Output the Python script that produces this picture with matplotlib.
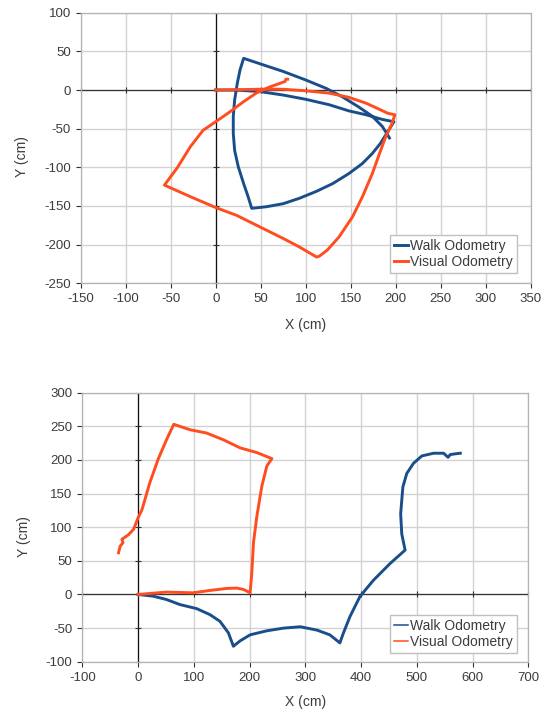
import numpy as np
import matplotlib
matplotlib.use("Agg")
import matplotlib.pyplot as plt

plt.rcParams['font.family'] = ['Liberation Sans', 'DejaVu Sans']
plt.rcParams['axes.unicode_minus'] = False

# Top chart (triangle walk)
walk1_x = [0, 23, 49, 75, 100, 126, 148, 167, 185, 198,
           190, 183, 174, 163, 148, 130, 112, 93, 75, 56, 40,
           36, 31, 25, 21, 19.5, 19.5, 21, 24, 27, 31,
           49, 75, 100, 123, 141, 159, 174, 185, 190, 193]
walk1_y = [0, 0, -2, -6.5, -12, -19, -27, -32, -38, -41,
           -56, -69, -82, -95, -108, -121, -131, -140, -147, -151, -153,
           -138, -121, -99, -78, -56, -34, -13, 9, 26, 41,
           34, 24, 13, 2, -9, -22, -34, -47, -56, -62]
vis1_x = [0, 25, 49, 75, 100, 126, 148, 167, 182, 191, 199,
          196, 189, 182, 174, 163, 152, 137, 124, 115, 112,
          93, 75, 49, 23, 0, -28, -57,
          -43, -28, -14, 0, 16, 31, 45, 60, 71, 77, 78, 80]
vis1_y = [0, 0.5, 1, 1, -1, -4, -9.5, -17, -25, -30, -32,
          -43, -60, -82, -108, -138, -164, -190, -207, -215, -216,
          -203, -192, -177, -162, -152, -138, -123,
          -101, -73, -52, -41, -28, -15, -4, 4, 8.5, 11, 14, 14]

# Bottom chart (long walk)
walk2_x = [0, 27, 51, 75, 105, 129, 147, 162, 171, 183, 201, 231, 261, 291, 321, 344, 362,
           368, 380, 398, 422, 452, 479, 473, 471, 475, 482, 494, 509, 530, 548, 556, 560, 568, 578]
walk2_y = [0, -2.5, -7.5, -15, -21, -30, -40, -57, -77, -69, -60, -54, -50, -48, -53, -60, -72,
           -58, -33, -3, 21, 46, 66, 90, 120, 160, 180, 195, 206, 210, 210, 204, 208, 209, 210]
vis2_x = [0, 21, 51, 99, 129, 159, 177, 189, 201,
          204, 207, 213, 222, 231, 240,
          213, 183, 153, 123, 93, 64,
          51, 36, 21, 7, 0, -8, -17, -29, -27, -32, -35]
vis2_y = [0, 1.5, 3.5, 2.5, 6, 9, 9.5, 7.5, 2.5,
          32, 77, 116, 161, 191, 202,
          211, 218, 230, 240, 245, 253,
          230, 201, 166, 126, 114, 97, 89, 82, 77, 72, 62]

xticks1 = np.arange(-150, 351, 50)
yticks1 = np.arange(-250, 101, 50)
xticks2 = np.arange(-100, 701, 100)
yticks2 = np.arange(-100, 301, 50)

WALK = '#1a4e8a'
VIS = '#ff4d1f'
TXT = '#3c3c3c'


def style_axes(ax, xticks, yticks):
    ax.set_xlim(xticks[0], xticks[-1])
    ax.set_ylim(yticks[0], yticks[-1])
    ax.set_xticks(xticks)
    ax.set_yticks(yticks)
    ax.grid(True, color='#d2d2d2', lw=1.0)
    for s in ax.spines.values():
        s.set_color('#b4b4b4')
        s.set_linewidth(0.9)
    ax.tick_params(direction='out', length=3.4, width=0.8, color='#333333',
                   labelsize=9.5, labelcolor=TXT, pad=3.8)
    # axis lines through the origin, with small crossing ticks
    ax.axhline(0, color='#333333', lw=0.9, zorder=2)
    ax.axvline(0, color='#111111', lw=0.9, zorder=2)
    ax.plot(xticks, np.zeros(len(xticks)), ls='none', marker='|', ms=4, mew=0.8,
            color='#333333', zorder=2, clip_on=False)
    ax.plot(np.zeros(len(yticks)), yticks, ls='none', marker='_', ms=4, mew=0.8,
            color='#333333', zorder=2, clip_on=False)
    ax.set_xlabel('X (cm)', fontsize=10, color=TXT)
    ax.set_ylabel('Y (cm)', fontsize=10, color=TXT)


def add_legend(ax, anchor):
    leg = ax.legend(loc='lower right', bbox_to_anchor=anchor, borderaxespad=0,
                    fontsize=10, fancybox=False, edgecolor='#c0c0c0', framealpha=1,
                    handlelength=1.0, handletextpad=0.15, labelspacing=0.15, borderpad=0.3)
    for t in leg.get_texts():
        t.set_color(TXT)
    return leg


fig = plt.figure(figsize=(5.48, 7.14), dpi=100)

ax1 = fig.add_axes([0.1473, 0.6032, 0.8212, 0.3790])
style_axes(ax1, xticks1, yticks1)
ax1.plot(walk1_x, walk1_y, color=WALK, lw=2.1, label='Walk Odometry', zorder=3)
ax1.plot(vis1_x, vis1_y, color=VIS, lw=2.1, label='Visual Odometry', zorder=3)
ax1.xaxis.set_label_coords(0.5, -0.13)
ax1.yaxis.set_label_coords(-0.115, 0.47)
add_legend(ax1, (0.970, 0.037))

ax2 = fig.add_axes([0.1502, 0.0732, 0.8139, 0.3768])
style_axes(ax2, xticks2, yticks2)
ax2.plot(walk2_x, walk2_y, color=WALK, lw=2.1, label='Walk Odometry', zorder=3)
ax2.plot(vis2_x, vis2_y, color=VIS, lw=2.1, label='Visual Odometry', zorder=3)
ax2.xaxis.set_label_coords(0.5, -0.125)
ax2.yaxis.set_label_coords(-0.114, 0.465)
leg2 = add_legend(ax2, (0.974, 0.031))
for ln in leg2.get_lines():
    ln.set_linewidth(1.1)

fig.savefig('out.png', dpi=100)
